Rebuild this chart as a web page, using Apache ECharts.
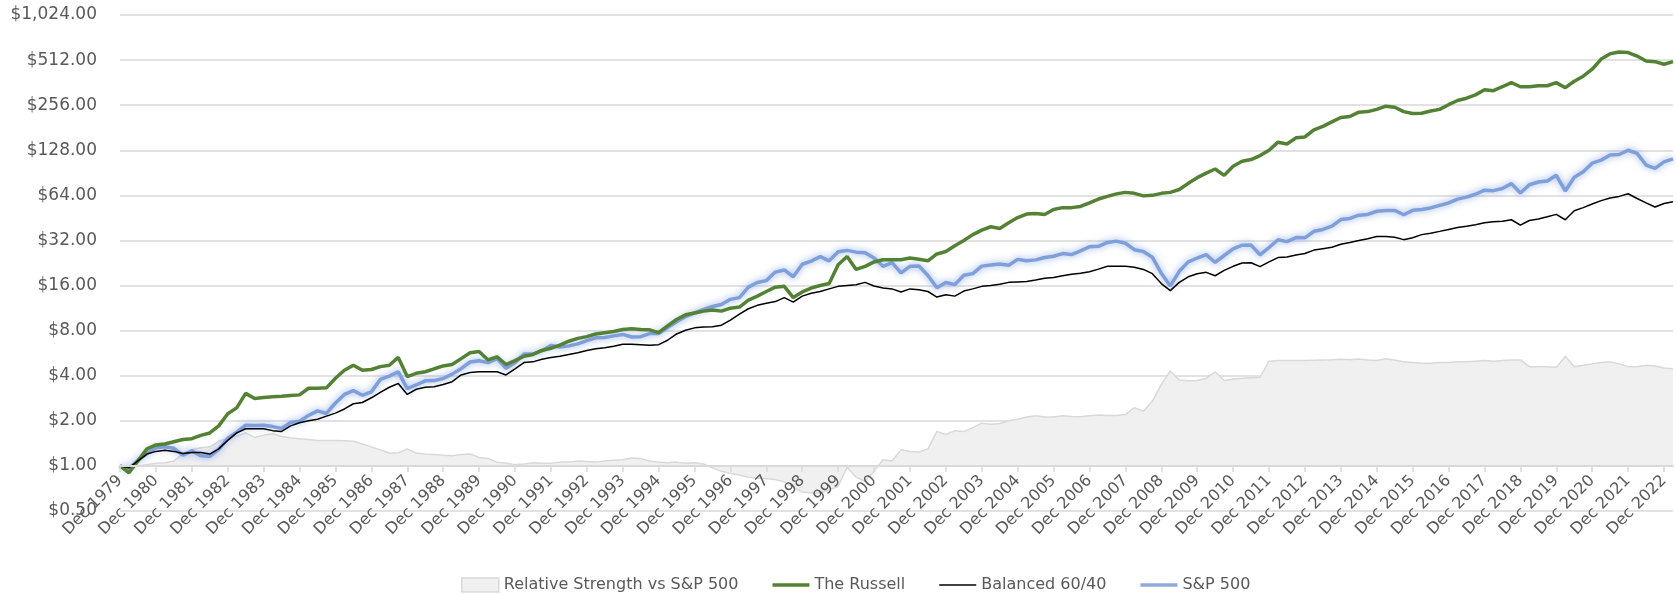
<!DOCTYPE html>
<html>
<head>
<meta charset="utf-8">
<script src="https://cdn.jsdelivr.net/npm/echarts@6/dist/echarts.min.js"></script>
<style>
html,body{margin:0;padding:0;background:#fff;}
#chart{width:1676px;height:595px;}
</style>
</head>
<body>
<div id="chart"></div>
<script>
// Quarterly observations: Dec 1979, then Mar/Jun/Sep/Dec of each year, ending Mar 2023
const startYear = 1979;
const quarterNames = ['Dec', 'Mar', 'Jun', 'Sep'];

const sp500 = [1.00,
0.96,1.09,1.21,1.32, 1.34,1.31,1.18,1.26, 1.17,1.16,1.29,1.53, 1.68,1.87,1.86,1.87,
1.83,1.78,1.95,1.99, 2.17,2.33,2.24,2.63, 3.00,3.18,2.96,3.12, 3.78,3.98,4.24,3.28,
3.47,3.70,3.71,3.83, 4.10,4.46,4.94,5.04, 4.89,5.20,4.48,4.88, 5.59,5.58,5.88,6.37,
6.21,6.33,6.53,6.86, 7.16,7.19,7.38,7.55, 7.26,7.29,7.65,7.65, 8.39,9.18,9.91,10.52,
11.09,11.59,11.95,12.94, 13.29,15.61,16.78,17.26, 19.68,20.33,18.32,22.20, 23.31,24.94,23.39,26.86,
27.48,26.74,26.47,24.42, 21.51,22.78,19.43,21.51, 21.58,18.69,15.45,16.76, 16.22,18.72,19.21,21.57,
21.94,22.31,21.89,23.92, 23.42,23.74,24.60,25.09, 26.14,25.78,27.25,29.05, 29.22,31.06,31.68,30.65,
27.77,27.02,24.75,19.31, 15.9,19.92,23.03,24.43, 25.75,22.81,25.39,28.12, 29.78,29.81,25.67,28.71,
32.33,31.42,33.43,33.30, 36.83,37.90,39.87,44.09, 44.88,47.21,47.73,50.13, 50.63,50.78,47.53,50.83,
51.49,52.78,54.84,56.93, 60.40,62.27,65.07,69.34, 68.79,71.13,76.61,66.29, 75.30,78.54,79.87,87.17,
68.5,84.46,91.98,105, 110,119,120,128, 122,102,97,107,
112];

const russell = [1.00,
0.90,1.08,1.30,1.38, 1.40,1.45,1.50,1.52, 1.60,1.66,1.85,2.23, 2.44,3.05,2.82,2.86,
2.90,2.92,2.95,2.98, 3.30,3.30,3.32,3.85, 4.35,4.70,4.35,4.40, 4.60,4.70,5.30,3.95,
4.15,4.25,4.45,4.65, 4.75,5.20,5.70,5.80, 5.10,5.35,4.75,5.05, 5.40,5.55,5.90,6.10,
6.40,6.80,7.10,7.30, 7.60,7.75,7.90,8.15, 8.25,8.15,8.10,7.75, 8.60,9.50,10.2,10.5,
10.8,11.0,10.8,11.3, 11.5,12.8,13.6,14.6, 15.6,15.8,13.3,14.5, 15.4,16.0,16.5,22.0,
25.0,20.5,21.5,23.0, 23.8,23.8,23.8,24.4, 24.0,23.4,26.0,27.0, 29.5,32.0,35.0,37.5,
39.5,38.5,42.0,45.5, 48.0,48.5,47.7,51.5, 53.0,53.0,54.0,57.0, 60.5,63.0,65.5,67.0,
66.0,63.5,64.0,66.0, 67.0,70.0,77.0,84.0, 90.0,96.0,87.0,100, 108,111,118,128,
145,141,155,157, 175,185,198,212, 215,230,232,240, 252,248,232,225,
226,234,240,258, 275,285,300,325, 320,340,362,340, 340,345,345,362,
335,370,400,445, 520,565,580,575, 545,505,500,480,
500];

const balanced = [1.00,
0.97,1.08,1.20,1.25, 1.27,1.25,1.21,1.23, 1.23,1.20,1.30,1.48, 1.66,1.77,1.77,1.77,
1.72,1.70,1.85,1.94, 2.00,2.05,2.15,2.25, 2.40,2.60,2.65,2.85, 3.10,3.35,3.55,3.00,
3.25,3.35,3.38,3.50, 3.65,4.05,4.20,4.25, 4.25,4.25,4.05,4.45, 4.90,4.95,5.15,5.30,
5.40,5.55,5.70,5.90, 6.05,6.15,6.30,6.50, 6.50,6.45,6.40,6.45, 6.90,7.60,8.05,8.35,
8.45,8.50,8.70,9.40, 10.3,11.2,11.8,12.2, 12.5,13.3,12.4,13.6, 14.2,14.6,15.2,15.8,
16.0,16.2,16.8,15.9, 15.4,15.2,14.5,15.2, 15.0,14.6,13.4,13.9, 13.6,14.7,15.2,15.8,
16.0,16.3,16.8,16.9, 17.0,17.4,17.9,18.1, 18.6,19.0,19.3,19.8, 20.6,21.5,21.5,21.5,
21.2,20.5,19.2,16.5, 14.8,16.8,18.3,19.2, 19.6,18.6,20.2,21.5, 22.6,22.7,21.4,23.0,
24.6,24.8,25.6,26.2, 27.6,28.2,28.8,30.2, 31.0,32.0,32.8,34.0, 34.0,33.6,32.4,33.4,
35.0,35.8,36.8,37.9, 39.0,39.8,40.8,42.0, 42.6,43.0,44.0,40.5, 43.5,44.5,46.0,47.8,
44.0,50.5,53.0,56.0, 59.0,61.5,63.0,65.6, 61.0,57.0,53.5,56.5,
58.0];

const relStrength = [1.00,
1.00,1.00,1.02,1.04, 1.05,1.08,1.20,1.28, 1.32,1.34,1.46,1.52, 1.58,1.66,1.55,1.60,
1.64,1.57,1.54,1.52, 1.50,1.48,1.48,1.48, 1.47,1.46,1.40,1.34, 1.28,1.22,1.22,1.30,
1.22,1.20,1.19,1.18, 1.17,1.19,1.20,1.14, 1.12,1.06,1.04,1.02, 1.03,1.05,1.04,1.04,
1.06,1.06,1.08,1.07, 1.06,1.08,1.09,1.10, 1.13,1.12,1.08,1.06, 1.05,1.06,1.04,1.05,
1.03,0.97,0.92,0.89, 0.87,0.84,0.83,0.82, 0.81,0.78,0.72,0.67, 0.66,0.66,0.69,0.73,
0.98,0.84,0.79,0.92, 1.10,1.08,1.28,1.25, 1.24,1.30,1.70,1.62, 1.72,1.70,1.80,1.93,
1.90,1.92,2.00,2.05, 2.12,2.16,2.12,2.12, 2.16,2.14,2.13,2.16, 2.19,2.17,2.17,2.20,
2.45,2.32,2.70,3.50, 4.30,3.75,3.70,3.72, 3.85,4.25,3.72,3.80, 3.85,3.88,3.90,5.00,
5.05,5.05,5.05,5.05, 5.08,5.10,5.12,5.15, 5.12,5.18,5.10,5.05, 5.20,5.10,4.95,4.90,
4.85,4.85,4.90,4.90, 4.95,4.95,5.00,5.05, 5.00,5.05,5.10,5.10, 4.60,4.60,4.60,4.55,
5.40,4.60,4.70,4.80, 4.90,4.95,4.80,4.60, 4.60,4.70,4.65,4.50,
4.45];

const categories = sp500.map(function (_, q) {
  return quarterNames[q % 4] + ' ' + (startYear + Math.floor((q + 3) / 4));
});

const yMin = 0.5, yMax = 1024;
const FONT = 'DejaVu Sans';
const TXT = '#595959';

const chart = echarts.init(document.getElementById('chart'));
chart.setOption({
  animation: false,
  backgroundColor: '#ffffff',
  textStyle: { fontFamily: FONT },
  grid: { left: 120, right: 3, top: 15, bottom: 84, containLabel: false },
  legend: {
    left: 456, top: 572,
    itemWidth: 37, itemHeight: 14, itemGap: 34,
    textStyle: { color: TXT, fontSize: 16, fontFamily: FONT },
    data: [
      { name: 'Relative Strength vs S&P 500', icon: 'rect',
        itemStyle: { color: '#f0f0f0', borderColor: '#d9d9d9', borderWidth: 1.5 } },
      { name: 'The Russell', icon: 'path://M0,0 h37 v3.5 h-37 z' },
      { name: 'Balanced 60/40', icon: 'path://M0,0 h37 v1.6 h-37 z' },
      { name: 'S&P 500', icon: 'path://M0,0 h37 v3.5 h-37 z' }
    ]
  },
  xAxis: {
    type: 'category',
    data: categories,
    boundaryGap: false,
    offset: -45,
    z: 5,
    axisLine: { show: true, lineStyle: { color: '#d9d9d9', width: 2 } },
    axisTick: { show: true, interval: 3, length: 6, lineStyle: { color: '#d9d9d9', width: 1.5 } },
    axisLabel: { interval: 3, rotate: 45, margin: 12, color: TXT, fontSize: 16, fontFamily: FONT },
    splitLine: { show: false }
  },
  yAxis: {
    type: 'log',
    logBase: 2,
    min: yMin,
    max: yMax,
    interval: 1,
    axisLine: { show: false },
    axisTick: { show: false },
    axisLabel: {
      margin: 23, color: TXT, fontSize: 17, fontFamily: FONT,
      formatter: function (v) {
        return '$' + Number(v).toLocaleString('en-US', { minimumFractionDigits: 2, maximumFractionDigits: 2 });
      }
    },
    splitLine: { show: true, lineStyle: { color: '#d9d9d9', width: 1.5 } }
  },
  series: [
    {
      name: 'Relative Strength vs S&P 500',
      type: 'line',
      data: relStrength,
      symbol: 'none',
      z: 1,
      lineStyle: { color: '#d9d9d9', width: 1.5 },
      itemStyle: { color: '#f0f0f0', borderColor: '#d9d9d9' },
      areaStyle: { color: '#f0f0f0', opacity: 1, origin: 1 }
    },
    {
      name: 'S&P 500',
      type: 'line',
      data: sp500,
      symbol: 'none',
      z: 2,
      lineStyle: { color: '#7f9fdb', width: 3.5, shadowColor: 'rgba(110,145,220,0.75)', shadowBlur: 7 },
      itemStyle: { color: '#8faadc' }
    },
    {
      name: 'The Russell',
      type: 'line',
      data: russell,
      symbol: 'none',
      z: 3,
      lineStyle: { color: '#548235', width: 3.5 },
      itemStyle: { color: '#548235' }
    },
    {
      name: 'Balanced 60/40',
      type: 'line',
      data: balanced,
      symbol: 'none',
      z: 4,
      lineStyle: { color: '#000000', width: 1.5 },
      itemStyle: { color: '#000000' }
    }
  ]
});
</script>
</body>
</html>
